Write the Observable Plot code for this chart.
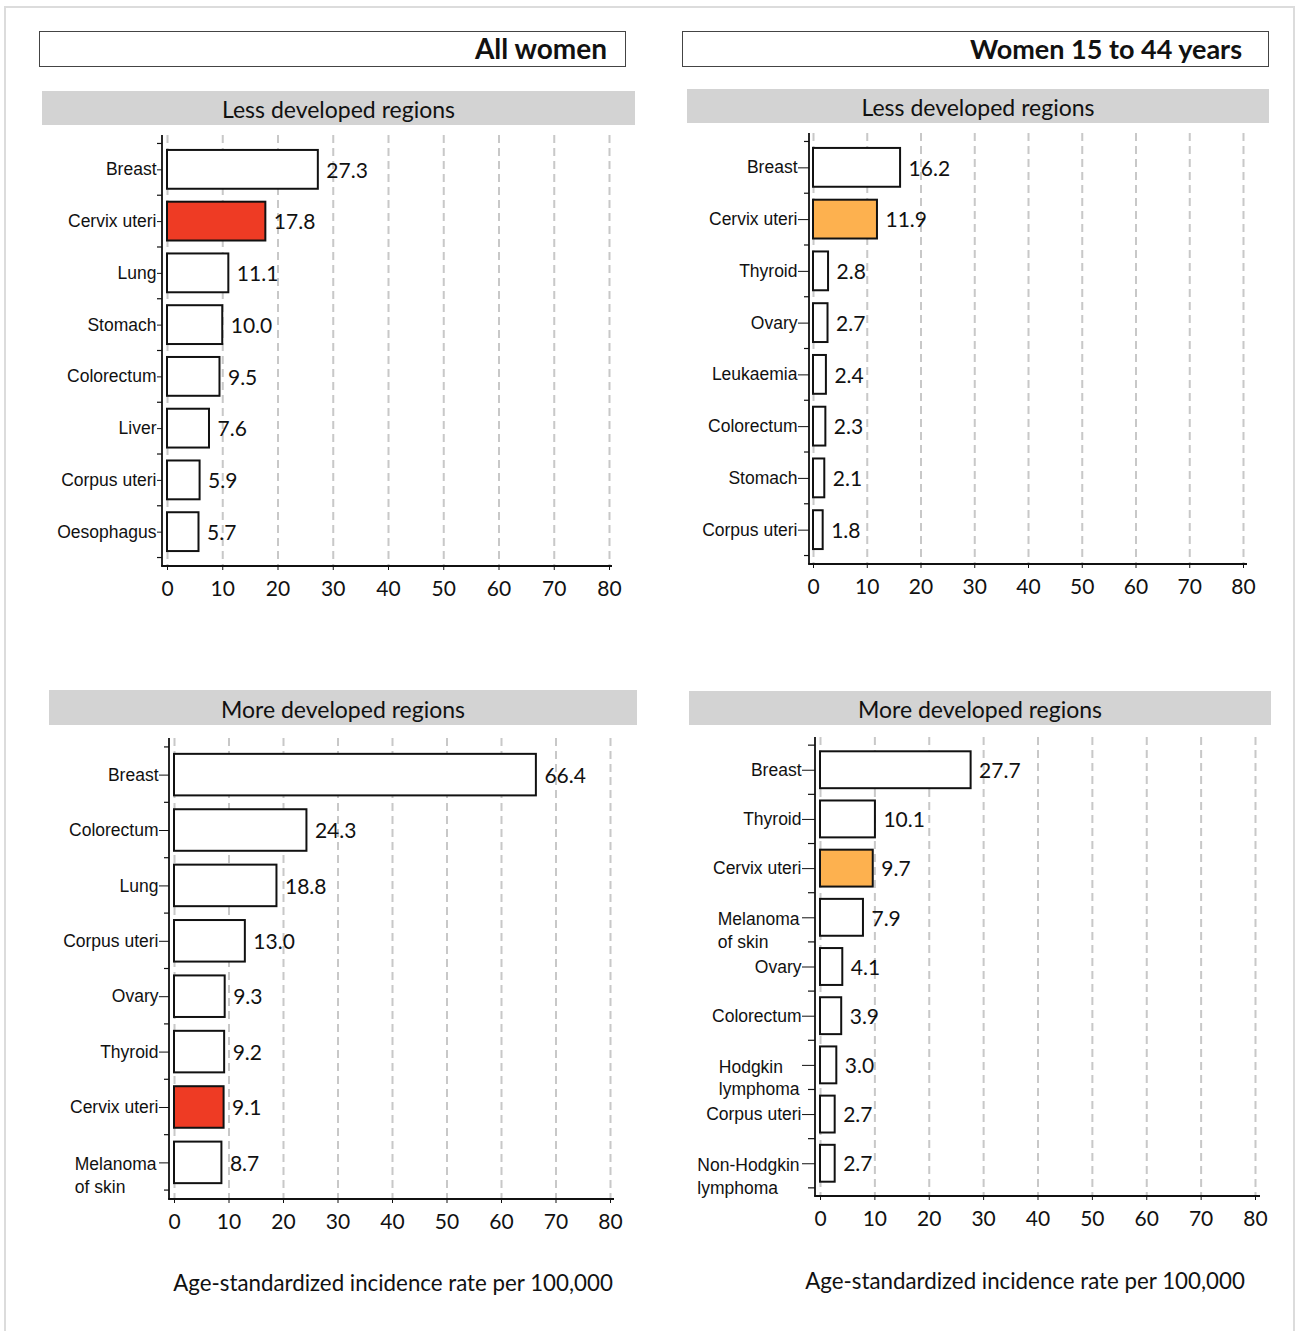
<!DOCTYPE html>
<html>
<head>
<meta charset="utf-8">
<script src="https://cdn.jsdelivr.net/npm/d3@7"></script>
<script src="https://cdn.jsdelivr.net/npm/@observablehq/plot@0.6"></script>
<style>
  body { margin: 0; background: #fff; }
  #root { position: relative; width: 1299px; height: 1331px; overflow: hidden; font-family: Lato, "Open Sans", sans-serif; color: #111; background: #fff; }
  .outer { position: absolute; left: 4px; top: 6px; width: 1291px; height: 1400px; border: 2px solid #dcdcdc; box-sizing: border-box; }
  .titlebox { position: absolute; border: 1.5px solid #444; box-sizing: border-box; font-weight: 700; font-size: 27px; text-align: right; line-height: 33px; white-space: nowrap; }
  .header { position: absolute; background: #d3d3d3; text-align: center; font-size: 23px; white-space: nowrap; }
  .xtitle { position: absolute; font-size: 22.3px; text-align: center; white-space: nowrap; }
  .panel { position: absolute; }
  .panel svg { overflow: visible; max-width: none !important; }
  .panel [aria-label^="x-axis"] text { font-family: Lato, sans-serif; font-size: 21px; fill: #111; }
  .panel [aria-label^="y-axis"] text { font-family: "Liberation Sans", Arial, sans-serif; font-size: 17.5px; fill: #111; }
</style>
</head>
<body>
<div id="root"><div class="outer"></div></div>
<script>
// ---------- data ----------
const lessAllCats = ["Breast", "Cervix uteri", "Lung", "Stomach", "Colorectum", "Liver", "Corpus uteri", "Oesophagus"];
const lessAllVals = [27.3, 17.8, 11.1, 10.0, 9.5, 7.6, 5.9, 5.7];

const less1544Cats = ["Breast", "Cervix uteri", "Thyroid", "Ovary", "Leukaemia", "Colorectum", "Stomach", "Corpus uteri"];
const less1544Vals = [16.2, 11.9, 2.8, 2.7, 2.4, 2.3, 2.1, 1.8];

const moreAllCats = ["Breast", "Colorectum", "Lung", "Corpus uteri", "Ovary", "Thyroid", "Cervix uteri", "Melanoma\nof skin"];
const moreAllVals = [66.4, 24.3, 18.8, 13.0, 9.3, 9.2, 9.1, 8.7];

const more1544Cats = ["Breast", "Thyroid", "Cervix uteri", "Melanoma\nof skin", "Ovary", "Colorectum", "Hodgkin\nlymphoma", "Corpus uteri", "Non-Hodgkin\nlymphoma"];
const more1544Vals = [27.7, 10.1, 9.7, 7.9, 4.1, 3.9, 3.0, 2.7, 2.7];

const xTicks = [0, 10, 20, 30, 40, 50, 60, 70, 80];
const highlightCat = "Cervix uteri";

const groupTitles = ["All women", "Women 15 to 44 years"];
const regionTitles = ["Less developed regions", "More developed regions"];
const xTitle = "Age-standardized incidence rate per 100,000";

// ---------- layout ----------
const root = document.getElementById("root");
function div(cls, text, css) {
  const d = document.createElement("div");
  d.className = cls;
  if (text != null) d.textContent = text;
  Object.assign(d.style, css);
  root.appendChild(d);
  return d;
}

div("titlebox", groupTitles[0], {left: "39px", top: "31px", width: "587px", height: "36px", paddingRight: "18px", fontSize: "28px"});
div("titlebox", groupTitles[1], {left: "682px", top: "31px", width: "587px", height: "36px", paddingRight: "26px"});

div("header", regionTitles[0], {left: "42px", top: "91px", width: "593px", height: "34px", lineHeight: "37px"});
div("header", regionTitles[0], {left: "687px", top: "89px", width: "582px", height: "34px", lineHeight: "37px"});
div("header", regionTitles[1], {left: "49px", top: "690px", width: "588px", height: "35px", lineHeight: "38px"});
div("header", regionTitles[1], {left: "689px", top: "691px", width: "582px", height: "34px", lineHeight: "37px"});

div("xtitle", xTitle, {left: "93px", top: "1268px", width: "600px", height: "30px", lineHeight: "30px"});
div("xtitle", xTitle, {left: "725px", top: "1266px", width: "600px", height: "30px", lineHeight: "30px"});

const panels = [
  {cats: lessAllCats, vals: lessAllVals, hl: "#ee3b24", left: 0, top: 125, width: 650, height: 490, ml: 162, mr: 38, mt: 10, mb: 49, il: 5, ir: 3, tk: 5, mk: 5},
  {cats: less1544Cats, vals: less1544Vals, hl: "#fdb14f", left: 650, top: 123, width: 649, height: 490, ml: 159, mr: 52, mt: 10, mb: 49, il: 4, ir: 4, tk: 11, mk: 5},
  {cats: moreAllCats, vals: moreAllVals, hl: "#ee3b24", left: 0, top: 726, width: 650, height: 520, ml: 169, mr: 36, mt: 12, mb: 47, il: 5, ir: 4, tk: 10, mk: 5},
  {cats: more1544Cats, vals: more1544Vals, hl: "#fdb14f", left: 650, top: 726, width: 649, height: 520, ml: 165, mr: 39, mt: 11, mb: 50, il: 5, ir: 5, tk: 13, mk: 7}
];

const Y_FONT = "17.5px 'Liberation Sans', Arial, sans-serif";
const Y_PAD = 1, LINE_H = 1.3, Y_FS = 17.5;
const measureCtx = document.createElement("canvas").getContext("2d");
function textWidth(s) { measureCtx.font = Y_FONT; return measureCtx.measureText(s).width; }

// axis lines plus minor ticks at band boundaries on the y axis
function axisDecor(cats, minorLen) {
  return (index, scales, values, dimensions) => {
    const g = d3.create("svg:g").attr("aria-label", "axis-lines");
    const {marginLeft, marginRight, marginTop, marginBottom, width, height} = dimensions;
    const x0 = marginLeft, yb = height - marginBottom;
    g.append("line").attr("x1", x0).attr("x2", x0).attr("y1", marginTop).attr("y2", yb)
      .attr("stroke", "#111").attr("stroke-width", 1.8);
    g.append("line").attr("x1", x0 - 0.9).attr("x2", width - marginRight).attr("y1", yb).attr("y2", yb)
      .attr("stroke", "#111").attr("stroke-width", 1.8);
    const y = scales && scales.y;
    if (!y || typeof y.step !== "function" || typeof y.bandwidth !== "function") return g.node();
    const gap = (y.step() - y.bandwidth()) / 2;
    const ys = cats.map(c => y(c) - gap);
    ys.push(y(cats[cats.length - 1]) + y.bandwidth() + gap);
    g.selectAll("line.minor").data(ys).join("line").attr("class", "minor")
      .attr("x1", x0 - minorLen).attr("x2", x0)
      .attr("y1", d => d).attr("y2", d => d)
      .attr("stroke", "#111").attr("stroke-width", 1.2);
    return g.node();
  };
}

for (const p of panels) {
  const data = p.cats.map((c, i) => ({c, v: p.vals[i]}));
  const multi = p.cats.filter(c => c.includes("\n"));
  const labelMarks = multi.map(c => {
    const w = d3.max(c.split("\n"), s => textWidth(s));
    return Plot.text([c], {
      y: d => d, text: d => d,
      frameAnchor: "left", textAnchor: "start", lineAnchor: "middle",
      lineHeight: LINE_H, dy: Y_FS * LINE_H / 2,
      dx: -(p.tk + Y_PAD + 2 + w),
      fontSize: Y_FS, fontFamily: "Liberation Sans, Arial, sans-serif", fill: "#111"
    });
  });

  const chart = Plot.plot({
    width: p.width, height: p.height,
    marginLeft: p.ml, marginRight: p.mr, marginTop: p.mt, marginBottom: p.mb,
    style: {background: "transparent", overflow: "visible"},
    x: {domain: [0, 80], ticks: xTicks, insetLeft: p.il, insetRight: p.ir, tickSize: 4, tickPadding: 11, label: null, tickFormat: d => String(d)},
    y: {domain: p.cats, padding: 0.25, round: false, insetTop: 2, insetBottom: 2, tickSize: p.tk, tickPadding: Y_PAD, label: null,
        tickFormat: d => d.includes("\n") ? "" : d},
    marks: [
      Plot.ruleX(xTicks, {stroke: "#c8c8c8", strokeWidth: 2, strokeDasharray: "8,5"}),
      Plot.barX(data, {x: "v", y: "c", fill: d => d.c === highlightCat ? p.hl : "#fff", stroke: "#111", strokeWidth: 2}),
      Plot.text(data, {x: "v", y: "c", text: d => d.v.toFixed(1), dx: 8, dy: 1, textAnchor: "start", fontSize: 21, fontFamily: "Lato, sans-serif", fill: "#111"}),
      axisDecor(p.cats, p.mk),
      ...labelMarks
    ]
  });
  const holder = document.createElement("div");
  holder.className = "panel";
  Object.assign(holder.style, {left: p.left + "px", top: p.top + "px", width: p.width + "px", height: p.height + "px"});
  holder.appendChild(chart);
  root.appendChild(holder);
}
</script>
</body>
</html>
